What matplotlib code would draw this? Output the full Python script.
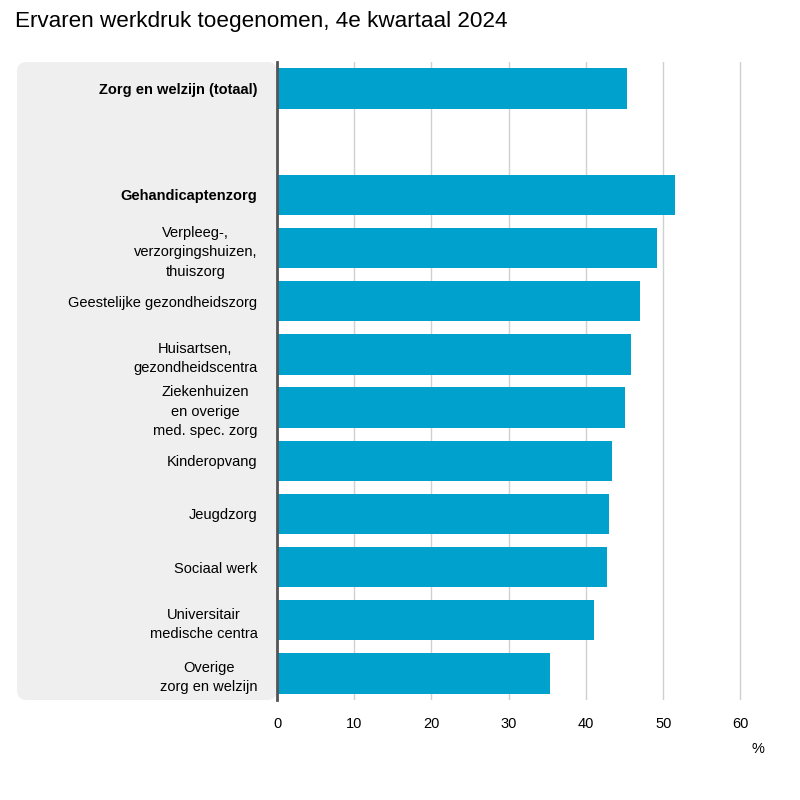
import matplotlib.pyplot as plt
from matplotlib.patches import FancyBboxPatch

plt.rcParams["font.family"] = ["Liberation Sans", "DejaVu Sans"]

categories = ["Zorg en welzijn (totaal)", "", "Gehandicaptenzorg",
              "Verpleeg-,\nverzorgingshuizen,\nthuiszorg",
              "Geestelijke gezondheidszorg",
              "Huisartsen,\ngezondheidscentra",
              "Ziekenhuizen\nen overige\nmed. spec. zorg",
              "Kinderopvang", "Jeugdzorg", "Sociaal werk",
              "Universitair\nmedische centra",
              "Overige\nzorg en welzijn"]
values = [45.3, None, 51.5, 49.2, 47.0, 45.8, 45.1, 43.4, 43.0, 42.7, 41.1, 35.4]
bold = ["Zorg en welzijn (totaal)", "Gehandicaptenzorg"]

W, H = 800, 800
fig = plt.figure(figsize=(8, 8), dpi=100)
fig.patch.set_facecolor("white")

# grey label panel
panel = FancyBboxPatch((17 / W, 1 - 700 / H), (277 - 17) / W, (700 - 62) / H,
                       boxstyle="round,pad=0,rounding_size=0.012",
                       transform=fig.transFigure, facecolor="#efefef",
                       edgecolor="none", zorder=-5)
fig.patches.append(panel)

ax = fig.add_axes([277 / W, 1 - 700 / H, (762 - 277) / W, (700 - 62) / H])
ax.set_facecolor("none")
n = len(categories)
ys = list(range(n))
for y, v in zip(ys, values):
    if v is not None:
        ax.barh(y, v, height=0.76, color="#00a1cd", zorder=3)
ax.set_ylim(n - 0.5, -0.5)
ax.set_xlim(0, 62.8)
ax.set_xticks([0, 10, 20, 30, 40, 50, 60])
ax.grid(axis="x", color="#d0d0d0", lw=1, zorder=0)
for s in ["top", "right", "bottom"]:
    ax.spines[s].set_visible(False)
ax.spines["left"].set_color("#555555")
ax.spines["left"].set_linewidth(2)
ax.spines["left"].set_zorder(4)
ax.tick_params(axis="x", length=0, labelsize=10.5, pad=12, colors="black")
ax.tick_params(axis="y", length=0, pad=14)
ax.set_yticks(ys)
ax.set_yticklabels(categories, fontsize=10.5)
for lbl in ax.get_yticklabels():
    lbl.set_multialignment("center")
    lbl.set_linespacing(1.5)
    if lbl.get_text() in bold:
        lbl.set_fontweight("bold")

fig.text(15 / W, 1 - 22 / H, "Ervaren werkdruk toegenomen, 4e kwartaal 2024",
         fontsize=16.2, va="center", ha="left")
fig.text(758 / W, 1 - 749 / H, "%", fontsize=10.5, va="center", ha="center")

fig.savefig("out.png", dpi=100)
